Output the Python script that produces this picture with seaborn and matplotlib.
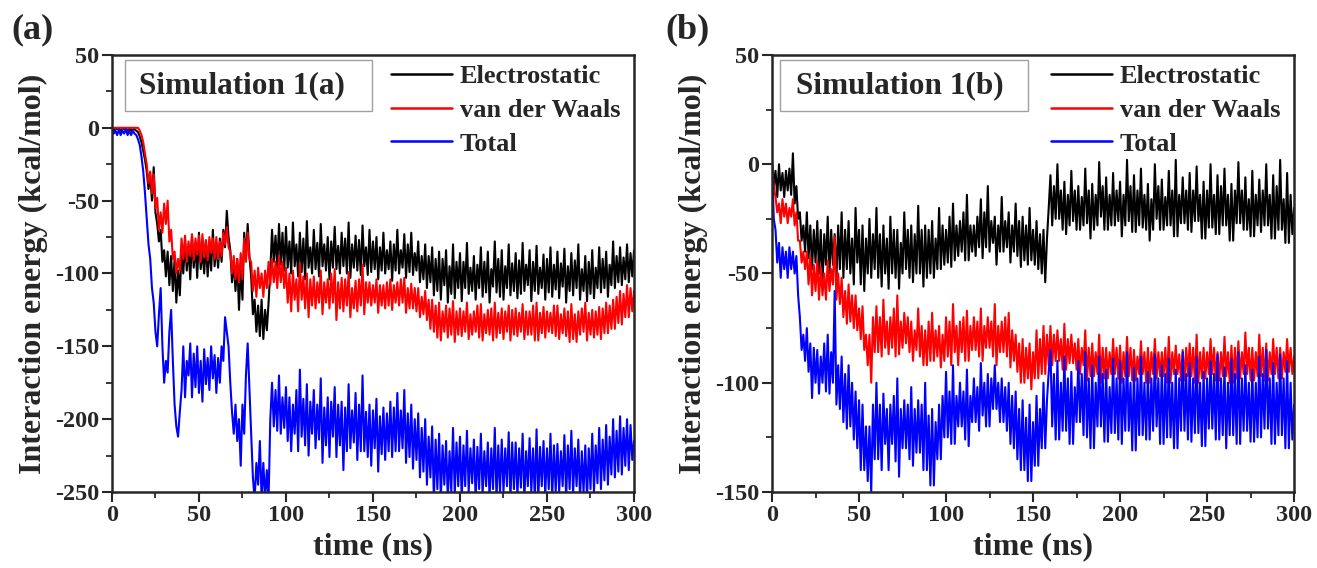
import numpy as np
import pandas as pd
import matplotlib
matplotlib.use("Agg")
import matplotlib.pyplot as plt
from matplotlib.patches import Rectangle
from matplotlib.ticker import MultipleLocator
import seaborn as sns

# ---- interaction energies (kcal/mol), one value per ns, rows of 20 ns ----
time_ns = np.arange(0, 301, 1)

elec_a = [
    0, -2, 0, -1, -1, -2, 0, -1, -1, -2, 0, -2, -1, -1, -2, -3, -6, -10, -16, -22,
    -30, -42, -33, -50, -27, -58, -66, -78, -70, -92, -84, -102, -85, -108, -88, -112, -90, -120, -98, -115,
    -84, -100, -78, -98, -82, -104, -75, -96, -80, -103, -72, -97, -84, -100, -78, -102, -81, -98, -70, -95,
    -80, -96, -76, -92, -70, -82, -57, -75, -84, -106, -92, -112, -90, -125, -95, -118, -72, -90, -66, -88,
    -102, -128, -118, -140, -122, -143, -118, -145, -125, -139, -120, -98, -70, -92, -74, -96, -66, -94, -72, -98,
    -68, -96, -78, -100, -65, -95, -80, -102, -72, -99, -76, -104, -64, -96, -82, -100, -70, -97, -79, -102,
    -66, -95, -80, -98, -75, -104, -78, -96, -68, -97, -81, -100, -72, -95, -76, -100, -65, -103, -80, -96,
    -74, -98, -77, -101, -67, -95, -82, -101, -70, -99, -78, -97, -75, -104, -82, -98, -72, -100, -84, -97,
    -78, -105, -80, -98, -70, -100, -84, -96, -73, -103, -80, -99, -72, -101, -86, -98, -78, -106, -88, -104,
    -80, -110, -88, -106, -82, -115, -90, -112, -85, -118, -90, -108, -84, -120, -95, -114, -80, -117, -92, -110,
    -86, -119, -92, -110, -79, -114, -96, -112, -88, -118, -94, -110, -82, -116, -92, -113, -85, -120, -97, -109,
    -78, -113, -90, -116, -84, -118, -95, -110, -80, -115, -93, -112, -86, -117, -91, -114, -79, -112, -94, -108,
    -84, -119, -92, -112, -81, -114, -96, -110, -87, -118, -90, -113, -82, -116, -94, -111, -85, -117, -93, -109,
    -83, -120, -95, -112, -86, -115, -91, -110, -80, -118, -97, -112, -88, -119, -92, -114, -84, -117, -96, -110,
    -82, -113, -90, -110, -85, -116, -94, -108, -78, -110, -88, -106, -82, -108, -89, -104, -80, -106, -86, -102,
    -84,
]
vdw_a = [
    0, 0, 0, 0, 0, 0, 0, 0, 0, 0, 0, 0, 0, 0, 0, 0, -2, -5, -10, -18,
    -25, -38, -30, -45, -32, -55, -48, -70, -58, -72, -52, -66, -50, -78, -70, -90, -85, -100, -90, -98,
    -76, -90, -74, -92, -78, -88, -73, -91, -76, -87, -74, -92, -73, -89, -77, -91, -75, -86, -76, -90,
    -75, -90, -78, -88, -72, -80, -68, -82, -85, -100, -88, -104, -90, -106, -86, -104, -76, -92, -72, -90,
    -92, -112, -98, -116, -96, -110, -100, -116, -98, -110, -92, -108, -90, -106, -92, -110, -88, -106, -92, -110,
    -96, -120, -100, -126, -98, -118, -104, -126, -93, -118, -102, -124, -100, -130, -104, -122, -102, -124, -106, -120,
    -98, -128, -106, -120, -104, -124, -100, -120, -97, -132, -106, -124, -103, -126, -104, -122, -99, -130, -110, -124,
    -105, -126, -104, -122, -94, -128, -106, -120, -106, -122, -108, -120, -104, -127, -108, -122, -108, -124, -106, -122,
    -104, -125, -108, -120, -106, -122, -104, -120, -103, -127, -110, -124, -107, -124, -110, -126, -110, -130, -116, -128,
    -112, -132, -118, -138, -118, -140, -122, -144, -120, -146, -126, -140, -122, -144, -124, -142, -119, -147, -126, -142,
    -124, -143, -126, -140, -120, -145, -128, -142, -126, -140, -122, -144, -121, -146, -128, -141, -125, -142, -124, -146,
    -120, -144, -127, -141, -124, -145, -126, -140, -122, -146, -125, -142, -124, -143, -127, -140, -121, -145, -126, -142,
    -126, -142, -122, -146, -120, -146, -127, -141, -123, -144, -126, -140, -127, -141, -122, -143, -122, -145, -128, -141,
    -124, -143, -126, -147, -121, -145, -128, -147, -126, -142, -124, -140, -120, -146, -127, -142, -125, -144, -126, -142,
    -123, -145, -124, -141, -120, -141, -122, -138, -118, -138, -116, -134, -112, -135, -114, -130, -108, -130, -110, -126,
    -112,
]
total_a = [
    -1, -4, -2, -5, -1, -5, -2, -4, -1, -5, -2, -5, -2, -4, -5, -8, -12, -20, -30, -45,
    -62, -80, -90, -110, -120, -140, -150, -128, -110, -150, -175, -160, -168, -140, -125, -160, -190, -205, -212, -195,
    -180, -150, -185, -160, -170, -148, -185, -155, -178, -150, -182, -160, -188, -152, -176, -158, -180, -150, -172, -156,
    -182, -158, -175, -150, -160, -130, -140, -150, -175, -195, -210, -190, -215, -200, -232, -190, -210, -170, -148, -180,
    -210, -240, -255, -230, -245, -215, -255, -230, -255, -235, -255, -200, -175, -205, -180, -208, -170, -210, -185, -206,
    -178, -215, -185, -222, -190, -210, -180, -222, -166, -212, -186, -218, -176, -225, -188, -210, -180, -220, -190, -214,
    -172, -230, -192, -218, -185, -226, -188, -212, -178, -226, -190, -218, -188, -235, -192, -222, -176, -220, -194, -216,
    -182, -228, -190, -222, -170, -222, -195, -226, -190, -232, -194, -220, -186, -236, -198, -224, -192, -228, -196, -222,
    -188, -226, -192, -222, -182, -222, -194, -220, -180, -230, -196, -226, -190, -234, -200, -228, -196, -240, -206, -236,
    -200, -245, -212, -240, -205, -255, -214, -248, -210, -255, -218, -245, -215, -255, -222, -250, -206, -252, -216, -246,
    -212, -255, -218, -246, -208, -250, -220, -244, -214, -255, -219, -248, -210, -252, -222, -246, -216, -255, -220, -248,
    -206, -255, -218, -250, -214, -250, -220, -246, -209, -255, -216, -248, -216, -253, -220, -247, -210, -255, -222, -246,
    -213, -250, -220, -255, -207, -255, -219, -246, -215, -252, -220, -248, -210, -255, -218, -250, -217, -250, -222, -246,
    -211, -255, -218, -248, -208, -252, -220, -246, -214, -255, -222, -250, -218, -255, -220, -248, -210, -250, -218, -244,
    -206, -248, -214, -242, -204, -245, -212, -238, -200, -240, -208, -236, -198, -238, -206, -232, -200, -235, -204, -228,
    -215,
]

elec_b = [
    2, -10, -3, -15, 0, -12, -4, -15, -3, -12, -2, -14, 5, -18, -10, -25, -22, -35, -28, -40,
    -22, -43, -28, -48, -30, -45, -26, -50, -30, -55, -32, -46, -24, -50, -30, -46, -32, -53, -28, -48,
    -22, -52, -30, -48, -26, -50, -34, -55, -20, -45, -30, -55, -28, -58, -34, -50, -25, -52, -32, -48,
    -20, -52, -32, -56, -28, -50, -34, -57, -24, -50, -30, -52, -30, -57, -36, -50, -22, -48, -30, -52,
    -28, -54, -32, -50, -19, -50, -30, -56, -28, -52, -30, -50, -26, -52, -34, -48, -20, -48, -28, -46,
    -30, -45, -24, -47, -18, -44, -28, -42, -26, -40, -22, -44, -14, -44, -28, -40, -28, -42, -24, -38,
    -16, -43, -22, -38, -10, -40, -26, -36, -24, -46, -28, -40, -15, -40, -26, -38, -22, -45, -28, -40,
    -18, -42, -26, -47, -24, -44, -28, -46, -20, -44, -30, -46, -26, -48, -32, -50, -30, -54, -34, -20,
    -5, -28, -10, -25, 0, -25, -12, -30, -8, -32, -14, -28, -3, -26, -12, -30, -10, -30, -15, -28,
    -2, -27, -12, -34, -9, -30, -14, -28, 1, -24, -10, -30, -6, -30, -14, -28, -4, -28, -12, -26,
    -8, -33, -14, -28, 2, -26, -10, -31, -5, -31, -12, -28, -2, -29, -14, -30, -9, -35, -16, -30,
    0, -25, -10, -30, -7, -30, -15, -28, -3, -28, -12, -33, 2, -33, -14, -27, -6, -27, -12, -30,
    -4, -31, -12, -26, -1, -26, -14, -34, -8, -34, -12, -29, 0, -29, -14, -32, -5, -32, -10, -28,
    -2, -28, -14, -35, -9, -35, -12, -27, 1, -27, -12, -30, -6, -30, -16, -33, -3, -33, -14, -28,
    -7, -31, -12, -28, 0, -28, -14, -34, -5, -34, -10, -30, 2, -30, -16, -36, -4, -36, -14, -32,
    -20,
]
vdw_b = [
    0, -10, -15, -22, -18, -27, -16, -24, -18, -27, -20, -24, -16, -28, -22, -35, -35, -45, -40, -48,
    -40, -55, -42, -60, -46, -58, -44, -62, -47, -60, -50, -62, -44, -58, -48, -55, -33, -62, -50, -64,
    -52, -70, -58, -73, -55, -72, -60, -75, -60, -76, -66, -80, -65, -85, -78, -92, -78, -100, -70, -86,
    -65, -86, -70, -88, -62, -84, -72, -87, -70, -84, -66, -88, -60, -87, -72, -84, -68, -82, -70, -86,
    -72, -90, -76, -85, -66, -88, -74, -92, -76, -92, -72, -90, -68, -90, -76, -88, -74, -93, -78, -90,
    -70, -88, -72, -92, -64, -86, -74, -92, -72, -86, -70, -90, -67, -90, -74, -85, -70, -85, -72, -88,
    -66, -90, -74, -84, -70, -84, -72, -88, -64, -92, -74, -86, -72, -86, -70, -88, -68, -93, -76, -90,
    -78, -95, -82, -100, -80, -100, -84, -98, -82, -103, -86, -98, -76, -98, -80, -96, -74, -96, -78, -92,
    -74, -92, -78, -90, -76, -90, -80, -94, -73, -94, -80, -91, -78, -91, -82, -94, -80, -96, -84, -92,
    -76, -99, -84, -97, -82, -97, -86, -96, -78, -100, -84, -98, -84, -98, -86, -96, -80, -96, -84, -98,
    -83, -100, -86, -97, -79, -97, -84, -99, -85, -99, -88, -96, -81, -96, -86, -100, -84, -100, -86, -96,
    -80, -98, -86, -97, -86, -97, -84, -100, -79, -100, -86, -96, -83, -96, -87, -99, -85, -99, -84, -97,
    -82, -97, -84, -100, -78, -100, -86, -98, -84, -98, -86, -96, -80, -96, -84, -99, -86, -99, -86, -97,
    -79, -97, -86, -100, -83, -100, -84, -98, -81, -98, -86, -96, -77, -96, -84, -99, -84, -99, -86, -97,
    -78, -97, -84, -99, -82, -99, -86, -96, -80, -96, -84, -98, -84, -98, -86, -95, -80, -95, -84, -96,
    -88,
]
total_b = [
    0, -25, -30, -45, -36, -52, -38, -48, -40, -52, -38, -48, -40, -50, -42, -60, -70, -85, -78, -90,
    -75, -95, -82, -107, -84, -100, -85, -105, -88, -100, -82, -104, -78, -105, -86, -100, -58, -110, -92, -112,
    -88, -118, -96, -121, -92, -120, -100, -126, -104, -130, -108, -140, -110, -140, -120, -145, -120, -150, -110, -135,
    -100, -135, -110, -140, -105, -128, -112, -140, -110, -128, -106, -136, -98, -143, -112, -130, -108, -130, -110, -135,
    -102, -138, -112, -132, -108, -132, -110, -140, -100, -140, -115, -147, -112, -147, -118, -135, -110, -135, -106, -125,
    -95, -125, -104, -128, -92, -128, -106, -120, -100, -120, -104, -126, -94, -129, -106, -118, -98, -118, -102, -122,
    -91, -115, -100, -120, -96, -120, -98, -112, -92, -112, -100, -118, -98, -118, -102, -122, -100, -128, -106, -130,
    -104, -135, -112, -140, -108, -140, -116, -145, -110, -145, -118, -138, -106, -138, -112, -130, -100, -130, -108, -95,
    -85, -120, -96, -126, -90, -126, -100, -122, -88, -122, -98, -128, -95, -128, -102, -118, -90, -118, -96, -124,
    -86, -125, -98, -130, -92, -130, -100, -120, -88, -120, -96, -127, -94, -127, -102, -123, -89, -123, -98, -126,
    -90, -128, -98, -122, -86, -122, -100, -131, -93, -131, -98, -124, -88, -124, -100, -126, -95, -126, -98, -122,
    -87, -120, -98, -128, -92, -128, -96, -125, -89, -125, -100, -130, -94, -130, -98, -122, -86, -122, -96, -126,
    -91, -127, -98, -123, -88, -123, -100, -129, -95, -129, -98, -121, -90, -121, -96, -126, -87, -126, -98, -124,
    -93, -130, -100, -124, -89, -124, -96, -128, -86, -128, -98, -122, -92, -122, -100, -127, -94, -127, -100, -125,
    -88, -125, -96, -121, -85, -121, -98, -128, -91, -128, -100, -124, -87, -124, -98, -130, -90, -130, -100, -126,
    -110,
]

components = ["Electrostatic", "van der Waals", "Total"]
colors = {"Electrostatic": "#000000", "van der Waals": "#ff0000", "Total": "#0000ff"}
panel_titles = ["Simulation 1(a)", "Simulation 1(b)"]
panel_tags = ["(a)", "(b)"]
y_limits = [(-250, 50), (-150, 50)]
x_ticks = [0, 50, 100, 150, 200, 250, 300]


def long_table(series):
    frames = []
    for name, vals in zip(components, series):
        frames.append(pd.DataFrame({"time": time_ns, "energy": vals, "component": name}))
    return pd.concat(frames, ignore_index=True)


tables = [long_table([elec_a, vdw_a, total_a]), long_table([elec_b, vdw_b, total_b])]

sns.set_style("ticks")
plt.rcParams["font.family"] = ["Liberation Serif", "DejaVu Serif"]
plt.rcParams["font.weight"] = "bold"
plt.rcParams["axes.labelweight"] = "bold"
plt.rcParams["axes.unicode_minus"] = False

fig = plt.figure(figsize=(13.17, 5.68), dpi=100)
axes = [fig.add_axes([0.0850, 0.1338, 0.3964, 0.7694]),
        fig.add_axes([0.5862, 0.1338, 0.3964, 0.7694])]

# title box extents in axes coordinates: (x0, x1, text x-centre)
title_boxes = [(0.025, 0.498, 0.249), (0.015, 0.490, 0.245)]
tag_x = [0.0243, 0.522]

for ax, df, title, tag, ylim, tb, tx in zip(axes, tables, panel_titles, panel_tags,
                                           y_limits, title_boxes, tag_x):
    sns.lineplot(data=df, x="time", y="energy", hue="component", hue_order=components,
                 palette=colors, linewidth=1.5, ax=ax, estimator=None, sort=False)
    ax.set_xlim(0, 300)
    ax.set_ylim(*ylim)
    ax.set_xticks(x_ticks)
    ax.xaxis.set_minor_locator(MultipleLocator(25))
    ax.yaxis.set_major_locator(MultipleLocator(50))
    ax.yaxis.set_minor_locator(MultipleLocator(25))
    ax.tick_params(which="major", direction="out", length=7, width=1.5, labelsize=17.5, pad=2)
    ax.tick_params(which="minor", direction="out", length=4, width=1.3)
    for lab in ax.get_xticklabels() + ax.get_yticklabels():
        lab.set_fontweight("bold")
    for sp in ax.spines.values():
        sp.set_linewidth(1.8)
        sp.set_visible(True)
    ax.set_xlabel("time (ns)", fontsize=23, fontweight="bold", labelpad=5)
    ax.set_ylabel("Interaction energy (kcal/mol)", fontsize=23, fontweight="bold", labelpad=5)

    leg = ax.legend(loc="upper right", frameon=False, fontsize=19, handlelength=2.3,
                    handletextpad=0.3, labelspacing=0.39, borderaxespad=0.0, borderpad=0.25,
                    bbox_to_anchor=(0.986, 0.993))
    for t in leg.get_texts():
        t.set_fontweight("bold")
    for h in leg.get_lines():
        h.set_linewidth(1.8)

    x0, x1, xc = tb
    ax.add_patch(Rectangle((x0, 0.872), x1 - x0, 0.1166, transform=ax.transAxes,
                           facecolor="white", edgecolor="#a0a0a0", linewidth=1.0, zorder=5))
    ax.text(xc, 0.929, title, transform=ax.transAxes, ha="center", va="center",
            fontsize=22.5, fontweight="bold", zorder=6)

    fig.text(tx, 0.947, tag, ha="center", va="center", fontsize=26, fontweight="bold")

fig.savefig("out.png", dpi=100)
